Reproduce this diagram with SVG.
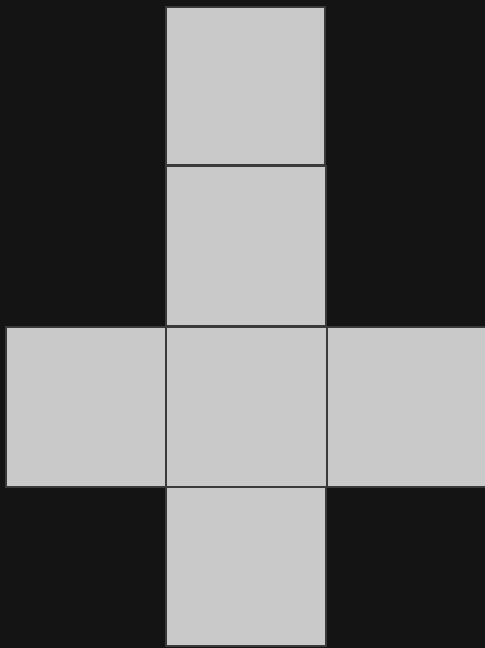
<svg xmlns="http://www.w3.org/2000/svg" width="485" height="648" viewBox="0 0 485 648">
<style>
.face{fill:#c9c9c9;stroke:#3a3a3a;stroke-width:2}
</style>
<rect width="485" height="648" fill="#141414"/>
<g id="top"><rect class="face" x="166" y="7" width="159" height="158"/></g>
<g id="upper"><rect class="face" x="166" y="166" width="160" height="160"/></g>
<g id="left"><rect class="face" x="6" y="327" width="160" height="160"/></g>
<g id="center"><rect class="face" x="166" y="327" width="161" height="160"/></g>
<g id="right"><rect class="face" x="327" y="327" width="160" height="160"/></g>
<g id="bottom"><rect class="face" x="166" y="487" width="160" height="159"/></g>
<g id="connectors"></g>
</svg>
